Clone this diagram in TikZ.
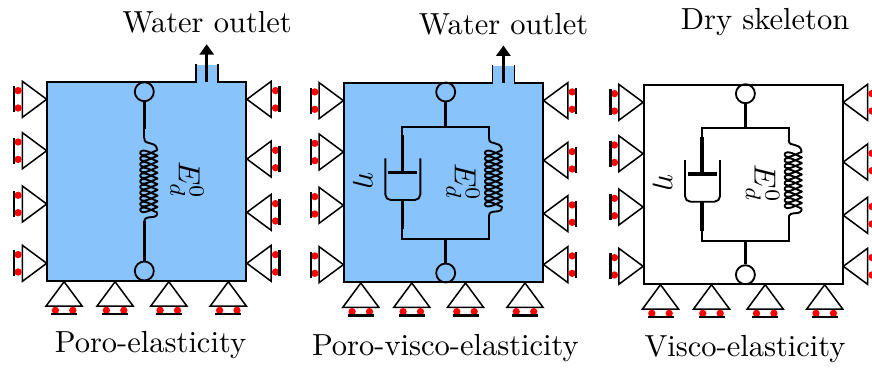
\documentclass[tikz,border=0pt]{standalone}
\usetikzlibrary{arrows.meta}
\definecolor{waterblue}{HTML}{88C3FC}
\tikzset{
    wall/.style={line width=0.55pt},
    rod/.style={line width=1.15pt},
    thinrod/.style={line width=0.62pt},
    hinge/.style={circle,draw,line width=0.6pt,minimum size=19pt*0.328,inner sep=0pt},
    caption/.style={anchor=base,inner sep=0pt},
    pics/roller/.style={code={
        \draw[line width=0.5pt] (0,0) -- (18,24.3) -- (-18,24.3) -- cycle;
        \foreach \d in {-8.7,8.7}
            \fill[red] (\d,28.6) circle (1.2pt);
        \draw[line width=0.75pt] (-13,32.5) -- (13,32.5);
    }},
    pics/supports/.style={code={
        \foreach \z in {17.6,69,122.3,181.6}
            \pic[rotate=-90] at (-0.6,\z) {roller};
        \foreach \z in {17.6,77.3,130.6,181.6}
            \pic[rotate=90] at (199.6,\z) {roller};
        \foreach \z in {16.8,67.8,121.5,181}
            \pic at (\z,200) {roller};
    }},
    pics/spring/.style={code={
        \draw[thinrod] (0,0) .. controls (0,9) and (11,1) .. (13,12);
        \draw[thinrod] plot[variable=\t,domain=0:360*#1,samples=40*#1]
            ({4.5+8.5*cos(\t)},{12+\t/360*5.7+2.4*sin(\t)*(1-cos(\t))});
        \draw[thinrod] (13,12+5.7*#1) .. controls (13,20+5.7*#1) and (0,13+5.7*#1) .. (0,21+5.7*#1);
    }},
    pics/outlet/.style={code={
        \fill[waterblue] (0,0) rectangle (199,199);
        \fill[waterblue] (148.4,1) rectangle (170.4,-17);
        \draw[wall] (0,0) -- (148.4,0) -- (148.4,-18);
        \draw[wall] (170.4,-18) -- (170.4,0) -- (199,0) -- (199,199) -- (0,199) -- (0,0) -- (1,0);
        \draw[rod,-{Triangle[length=3.4pt,width=4.6pt]}] (159.4,0) -- (159.4,-37.5);
    }}
}
\begin{document}
\begin{tikzpicture}[x=0.328pt,y=-0.328pt]
    \useasboundingbox (0,0) rectangle (872,367);
    %% poro-elasticity
    \begin{scope}[shift={(47.3,81.7)}]
        \pic {outlet};
        \pic {supports};
        \node[hinge] (top1) at (97,10) {};
        \node[hinge] (bot1) at (97,189.3) {};
        \coordinate (sprtop1) at (97,47.3);
        \coordinate (sprbot1) at (97,139.5);
        \draw[rod] (top1) -- (sprtop1);
        \draw[thinrod] (sprtop1) -- ++(0,9);
        \pic at (97,56.3) {spring=11};
        \draw[rod] (sprbot1) -- (bot1);
        \node[rotate=-90] (modulus1) at (139.7,98.3) {$E_d^0$};
    \end{scope}
    \node[caption] (outlet1) at (207,32.7) {Water outlet};
    \node[caption] (name1) at (150.5,352.7) {Poro-elasticity};
    %% saturated and dry panels
    \begin{scope}[shift={(344,83)}]
        \pic {outlet};
    \end{scope}
    \draw[wall] (643.7,84.7) rectangle (842.7,283.7);
    \foreach \p/\sx/\sy in {2/344/83,3/643.7/84.7} {
        \begin{scope}[shift={(\sx,\sy)}]
            \pic {supports};
            \node[hinge] (top\p) at (101.7,9) {};
            \node[hinge] (bot\p) at (101.7,190) {};
            \coordinate (upper\p) at (101.7,43.7);
            \coordinate (lower\p) at (101.7,156);
            \draw[rod] (top\p) -- (upper\p);
            \draw[rod] (lower\p) -- (bot\p);
            \draw[thinrod] (58.3,52) -- (58.3,43.7) -- (145,43.7) -- (145,55);
            \draw[thinrod] (145,132) -- (145,156) -- (58.3,156) -- (58.3,146);
            %% dashpot
            \draw[rod] (58.3,52) -- (58.3,89.3);
            \draw[rod] (43.8,89.3) -- (72.8,89.3);
            \draw[thinrod,rounded corners=1.8pt] (41.3,75.3) -- (41.3,117) -- (76.3,117) -- (76.3,75.3);
            \draw[rod] (58.3,117) -- (58.3,146.3);
            \pic at (145,55) {spring=10};
            \node[rotate=-90] (visc\p) at (19,98) {$\eta$};
            \node[rotate=-90] (modulus\p) at (119,99) {$E_d^0$};
        \end{scope}
    }
    \node[caption] (outlet2) at (503.6,34) {Water outlet};
    \node[caption] (name2) at (445.4,355) {Poro-visco-elasticity};
    \node[caption] (outlet3) at (765,29.3) {Dry skeleton};
    \node[caption] (name3) at (745,356.7) {Visco-elasticity};
\end{tikzpicture}
\end{document}
